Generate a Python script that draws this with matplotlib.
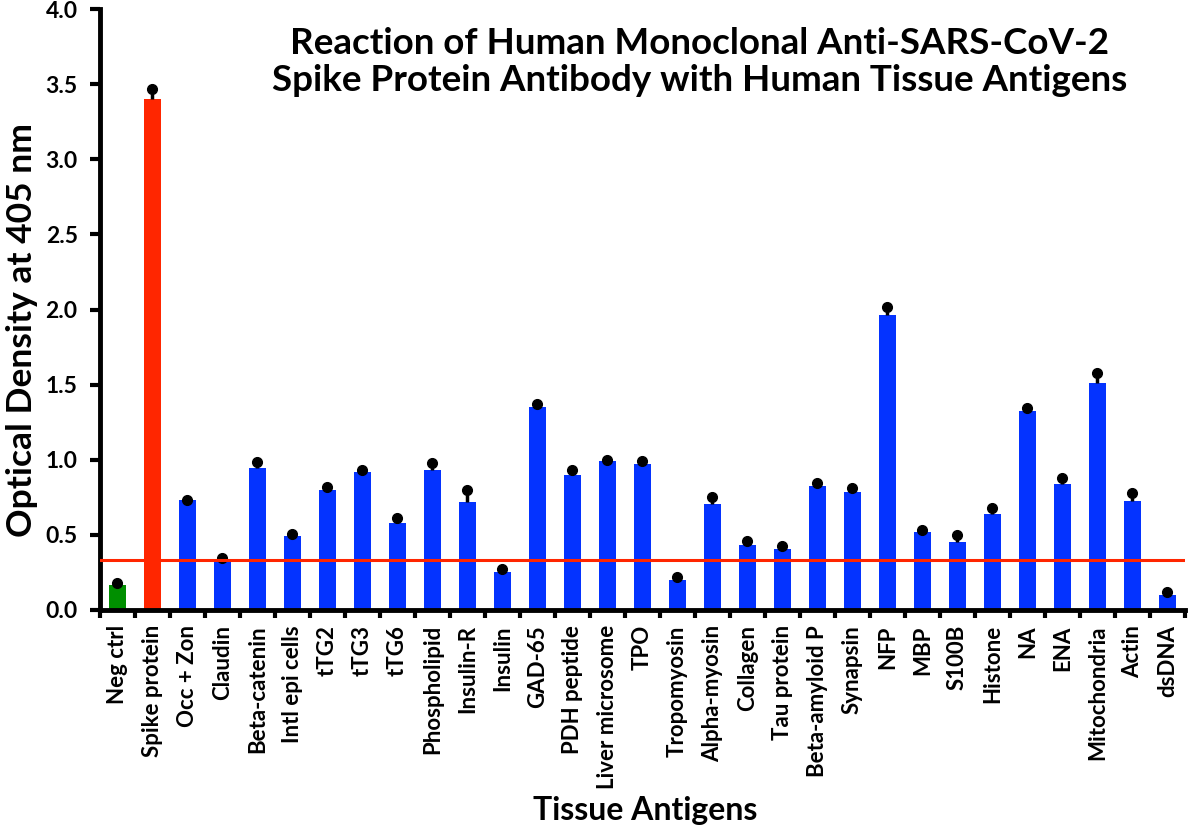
import numpy as np
import matplotlib
matplotlib.use("Agg")
import matplotlib.pyplot as plt

plt.rcParams["font.family"] = ["Lato", "DejaVu Sans"]
plt.rcParams["font.weight"] = "bold"

# Antigens, mean optical density and upper error
antigens = ["Neg ctrl", "Spike protein", "Occ + Zon", "Claudin", "Beta-catenin",
            "Intl epi cells", "tTG2", "tTG3", "tTG6", "Phospholipid", "Insulin-R",
            "Insulin", "GAD-65", "PDH peptide", "Liver microsome", "TPO",
            "Tropomyosin", "Alpha-myosin", "Collagen", "Tau protein",
            "Beta-amyloid P", "Synapsin", "NFP", "MBP", "S100B", "Histone", "NA",
            "ENA", "Mitochondria", "Actin", "dsDNA"]
od_values = [0.166, 3.40, 0.729, 0.330, 0.947, 0.495, 0.797, 0.921, 0.579, 0.934,
             0.716, 0.250, 1.353, 0.900, 0.990, 0.975, 0.200, 0.705, 0.435, 0.403,
             0.823, 0.788, 1.965, 0.522, 0.455, 0.638, 1.325, 0.840, 1.512, 0.725,
             0.100]
od_errors = [0.012, 0.065, 0.005, 0.015, 0.040, 0.010, 0.024, 0.013, 0.031, 0.045,
             0.081, 0.021, 0.015, 0.029, 0.008, 0.020, 0.022, 0.044, 0.027, 0.022,
             0.024, 0.023, 0.050, 0.013, 0.047, 0.040, 0.020, 0.040, 0.067, 0.051,
             0.020]
cutoff = 0.335

bar_colors = ["#008F00", "#FF2600"] + ["#0433FF"] * (len(antigens) - 2)

fig = plt.figure(figsize=(12, 8.31), dpi=100)
ax = fig.add_axes([0.0833, 0.266, 0.904, 0.723])

x = np.arange(len(antigens))
vals = np.array(od_values)
errs = np.array(od_errors)

ax.bar(x, vals, width=0.5, color=bar_colors, zorder=2)
ax.errorbar(x, vals, yerr=[np.zeros_like(errs), errs], fmt="none",
            ecolor="black", elinewidth=2.5, capsize=0, zorder=3)
ax.plot(x, vals + errs, "o", color="black", markersize=7, zorder=4)
ax.axhline(cutoff, color="#FF2600", linewidth=2.2, zorder=5)

ax.set_xlim(-0.5, len(antigens) - 0.5)
ax.set_ylim(0, 4.0)
yt = np.arange(0, 4.01, 0.5)
ax.set_yticks(yt)
ax.set_yticklabels([f"{v:.1f}" for v in yt], fontsize=16.5, fontweight="bold")
ax.set_xticks(np.arange(-0.5, len(antigens), 1.0))
ax.set_xticklabels([])
ax.set_xticks(x, minor=True)
ax.set_xticklabels(antigens, minor=True, rotation=90, fontsize=16,
                   fontweight="bold", va="top")
ax.tick_params(axis="x", which="minor", length=0, pad=11)
ax.tick_params(axis="x", which="major", direction="out", length=6,
               width=3, color="black")
ax.tick_params(axis="y", which="major", direction="out", length=7,
               width=3, color="black", pad=9)

for side in ["top", "right"]:
    ax.spines[side].set_visible(False)
for side in ["left", "bottom"]:
    ax.spines[side].set_linewidth(3.5)

fig.text(22 / 1200, 1 - 330 / 831, "Optical Density at 405 nm", rotation=90,
         ha="center", va="center", fontsize=25.5, fontweight="bold")
fig.text(645 / 1200, 1 - 820 / 831, "Tissue Antigens", ha="center",
         va="baseline", fontsize=23, fontweight="bold")
fig.text(700 / 1200, 1 - 54 / 831, "Reaction of Human Monoclonal Anti-SARS-CoV-2",
         ha="center", va="baseline", fontsize=26.5, fontweight="bold")
fig.text(700 / 1200, 1 - 91 / 831, "Spike Protein Antibody with Human Tissue Antigens",
         ha="center", va="baseline", fontsize=26.5, fontweight="bold")

fig.savefig("out.png", dpi=100)
